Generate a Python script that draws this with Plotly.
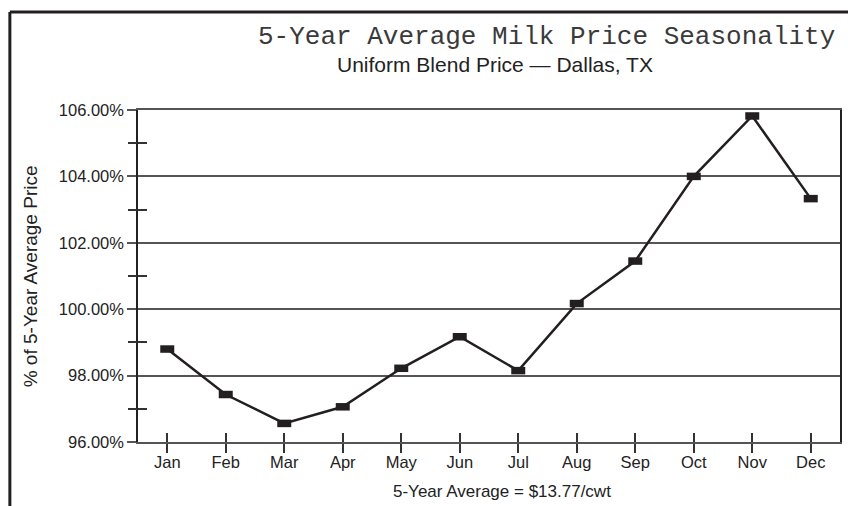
import plotly.graph_objects as go

months = ["Jan", "Feb", "Mar", "Apr", "May", "Jun", "Jul", "Aug", "Sep", "Oct", "Nov", "Dec"]
pct_of_avg = [98.80, 97.43, 96.56, 97.06, 98.22, 99.17, 98.15, 100.17, 101.45, 104.00, 105.82, 103.33]
major_ticks = [96, 98, 100, 102, 104, 106]
major_labels = ["96.00%", "98.00%", "100.00%", "102.00%", "104.00%", "106.00%"]
minor_ticks = [97, 99, 101, 103, 105]

title_text = "5-Year Average Milk Price Seasonality"
subtitle_text = "Uniform Blend Price \u2014 Dallas, TX"
x_title = "5-Year Average = $13.77/cwt"
y_title = "% of 5-Year Average Price"

W, H = 848, 506
L, R, T, B = 138, 6, 110, 64
PW, PH = W - L - R, H - T - B

def px(x):
    return (x - L) / PW

def py(y):
    return (H - B - y) / PH

SANS = "Liberation Sans, Arial, Helvetica, sans-serif"
MONO = "Courier New, Liberation Mono, monospace"
INK = "#231f20"

fig = go.Figure()
fig.add_trace(go.Scatter(
    x=months, y=pct_of_avg, mode="lines+markers",
    line=dict(color=INK, width=2.5),
    marker=dict(symbol="line-ew", size=10, color=INK, line=dict(color=INK, width=7.5)),
    hoverinfo="x+y", showlegend=False,
))
fig.add_trace(go.Scatter(x=[], y=[], xaxis="x2", yaxis="y2", showlegend=False, hoverinfo="skip"))

fig.update_layout(
    width=W, height=H,
    margin=dict(l=L, r=R, t=T, b=B),
    paper_bgcolor="white", plot_bgcolor="white",
    font=dict(family=SANS, size=16, color="#222"),
    xaxis=dict(
        type="category", categoryorder="array", categoryarray=months,
        range=[-0.5, 11.5], showline=True, linecolor="#555", linewidth=1.5, mirror=True,
        ticks="outside", ticklen=9, tickwidth=1.5, tickcolor="#333", ticklabelstandoff=-5,
        showgrid=False, zeroline=False, tickfont=dict(size=16.5, family=SANS, color="#222"),
    ),
    xaxis2=dict(
        overlaying="x", anchor="y2", side="bottom", range=[-0.5, 11.5],
        tickmode="array", tickvals=list(range(len(months))), ticks="inside", ticklen=9,
        tickwidth=1.5, tickcolor="#333", showticklabels=False, showgrid=False,
        zeroline=False, showline=False,
    ),
    yaxis=dict(
        range=[96, 106], tickmode="array", tickvals=major_ticks, ticktext=major_labels,
        ticks="outside", ticklen=9, tickwidth=1.5, tickcolor="#555",
        showgrid=True, gridcolor="#555", gridwidth=1.5,
        showline=True, linecolor="#222", linewidth=1.5, mirror=True, zeroline=False,
        tickfont=dict(size=16.5, family=SANS, color="#222"),
        minor=dict(tickmode="array", tickvals=minor_ticks, ticks="inside", ticklen=9,
                   tickwidth=1.5, tickcolor="#333", showgrid=False),
    ),
    yaxis2=dict(
        overlaying="y", anchor="x2", side="left", range=[96, 106],
        tickmode="array", tickvals=minor_ticks, ticks="outside", ticklen=9,
        tickwidth=1.5, tickcolor="#333", showticklabels=False, showgrid=False,
        zeroline=False, showline=False,
    ),
    shapes=[
        dict(type="line", xref="paper", yref="paper", x0=px(9.5), x1=px(860), y0=py(12), y1=py(12),
             line=dict(color=INK, width=3)),
        dict(type="line", xref="paper", yref="paper", x0=px(9.5), x1=px(9.5), y0=py(12), y1=py(520),
             line=dict(color=INK, width=3)),
    ],
    annotations=[
        dict(text=title_text, xref="paper", yref="paper", x=px(839), y=py(37),
             xanchor="right", yanchor="middle", showarrow=False,
             font=dict(family=MONO, size=26, color="#3a3a3a")),
        dict(text=subtitle_text, xref="paper", yref="paper", x=px(496), y=py(64),
             xanchor="center", yanchor="middle", showarrow=False,
             font=dict(family=SANS, size=21, color="#222")),
        dict(text=x_title, xref="paper", yref="paper", x=px(503), y=py(491),
             xanchor="center", yanchor="middle", showarrow=False,
             font=dict(family=SANS, size=17, color="#222")),
        dict(text=y_title, xref="paper", yref="paper", x=px(30), y=py(276),
             xanchor="center", yanchor="middle", showarrow=False, textangle=-90,
             font=dict(family=SANS, size=19, color="#222")),
    ],
)

fig.write_html(
    "out.html",
    config={"displayModeBar": False},
    post_script="document.body.style.margin='0';document.body.style.overflow='hidden';",
)
